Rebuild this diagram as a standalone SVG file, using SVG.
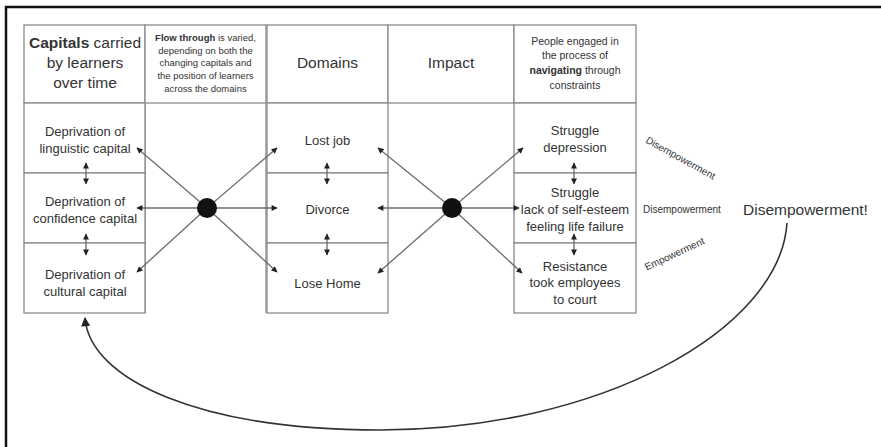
<svg xmlns="http://www.w3.org/2000/svg" width="881" height="447" viewBox="0 0 881 447">
<defs>
<style>
.box{fill:#fff;stroke:#8a8a8a;stroke-width:1.3}
.t{font-family:"Liberation Sans",Arial,sans-serif;fill:#333;text-anchor:middle}
.h1{font-size:15.5px}
.h2{font-size:9.5px}
.h5{font-size:10.5px}
.b{font-size:13px}
.lab{font-family:"Liberation Sans",Arial,sans-serif;fill:#333;font-size:10px}
.big{font-family:"Liberation Sans",Arial,sans-serif;fill:#333;font-size:15.5px}
.con{fill:none;stroke:#6b6b6b;stroke-width:1.3}
.dot{fill:#111}
</style>
<marker id="ah" viewBox="0 0 10 10" refX="9" refY="5" markerWidth="7" markerHeight="6" markerUnits="userSpaceOnUse" orient="auto-start-reverse">
<path d="M0,0 L10,5 L0,10 z" fill="#222"/>
</marker>
<marker id="ahb" viewBox="0 0 10 10" refX="9" refY="5" markerWidth="11" markerHeight="9" markerUnits="userSpaceOnUse" orient="auto-start-reverse">
<path d="M0,0 L10,5 L0,10 z" fill="#222"/>
</marker>
</defs>
<rect width="881" height="447" fill="#fff"/>
<path d="M6,447 V7 H881" fill="none" stroke="#111" stroke-width="2.5"/>

<g id="header-capitals">
<rect class="box" x="24" y="25" width="121" height="78"/>
<text class="t h1" x="85" y="48"><tspan font-weight="bold">Capitals</tspan> carried</text>
<text class="t h1" x="85" y="68">by learners</text>
<text class="t h1" x="85" y="88">over time</text>
</g>
<g id="header-flow">
<rect class="box" x="145" y="25" width="121" height="78"/>
<text class="t h2" x="205.5" y="41"><tspan font-weight="bold">Flow through</tspan> is varied,</text>
<text class="t h2" x="205.5" y="54">depending on both the</text>
<text class="t h2" x="205.5" y="66">changing capitals and</text>
<text class="t h2" x="205.5" y="79">the position of learners</text>
<text class="t h2" x="205.5" y="92">across the domains</text>
</g>
<g id="header-domains">
<rect class="box" x="267" y="25" width="121" height="78"/>
<text class="t h1" x="327.5" y="68">Domains</text>
</g>
<g id="header-impact">
<rect class="box" x="388" y="25" width="126" height="78"/>
<text class="t h1" x="451" y="68">Impact</text>
</g>
<g id="header-navigating">
<rect class="box" x="514" y="25" width="122" height="78"/>
<text class="t h5" x="575" y="45">People engaged in</text>
<text class="t h5" x="575" y="59">the process of</text>
<text class="t h5" x="575" y="74"><tspan font-weight="bold">navigating</tspan> through</text>
<text class="t h5" x="575" y="89">constraints</text>
</g>

<g id="col2-body"><path class="box" d="M145,103 V313 M266,103 V313" fill="none"/></g>

<g id="linguistic">
<rect class="box" x="24" y="103" width="121" height="70"/>
<text class="t b" x="85" y="135.5">Deprivation of</text>
<text class="t b" x="85" y="152.5">linguistic capital</text>
</g>
<g id="confidence">
<rect class="box" x="24" y="173" width="121" height="70"/>
<text class="t b" x="85" y="205.5">Deprivation of</text>
<text class="t b" x="85" y="222.5">confidence capital</text>
</g>
<g id="cultural">
<rect class="box" x="24" y="243" width="121" height="70"/>
<text class="t b" x="85" y="278.5">Deprivation of</text>
<text class="t b" x="85" y="295.5">cultural capital</text>
</g>

<g id="lost-job">
<rect class="box" x="267" y="103" width="121" height="70"/>
<text class="t b" x="327.5" y="144.5">Lost job</text>
</g>
<g id="divorce">
<rect class="box" x="267" y="173" width="121" height="70"/>
<text class="t b" x="327.5" y="213.5">Divorce</text>
</g>
<g id="lose-home">
<rect class="box" x="267" y="243" width="121" height="70"/>
<text class="t b" x="327.5" y="287.5">Lose Home</text>
</g>

<g id="struggle-depression">
<rect class="box" x="514" y="103" width="122" height="70"/>
<text class="t b" x="575" y="134.5">Struggle</text>
<text class="t b" x="575" y="151.5">depression</text>
</g>
<g id="struggle-esteem">
<rect class="box" x="514" y="173" width="122" height="70"/>
<text class="t b" x="575" y="196.5">Struggle</text>
<text class="t b" x="575" y="213.5">lack of self-esteem</text>
<text class="t b" x="575" y="230.5">feeling life failure</text>
</g>
<g id="resistance">
<rect class="box" x="514" y="243" width="122" height="70"/>
<text class="t b" x="575" y="270.5">Resistance</text>
<text class="t b" x="575" y="286.5">took employees</text>
<text class="t b" x="575" y="303.5">to court</text>
</g>

<g id="connectors">
<path class="con" d="M207,208 L137,148" marker-end="url(#ah)"/>
<path class="con" d="M207,208 L137,208" marker-end="url(#ah)"/>
<path class="con" d="M207,208 L137,272" marker-end="url(#ah)"/>
<path class="con" d="M207,208 L277,148" marker-end="url(#ah)"/>
<path class="con" d="M207,208 L277,208" marker-end="url(#ah)"/>
<path class="con" d="M207,208 L277,272" marker-end="url(#ah)"/>
<path class="con" d="M452,208 L378,148" marker-end="url(#ah)"/>
<path class="con" d="M452,208 L378,208" marker-end="url(#ah)"/>
<path class="con" d="M452,208 L378,273" marker-end="url(#ah)"/>
<path class="con" d="M452,208 L523,148" marker-end="url(#ah)"/>
<path class="con" d="M452,208 L519,208" marker-end="url(#ah)"/>
<path class="con" d="M452,208 L522,273" marker-end="url(#ah)"/>
<path class="con" d="M86,163 V184" marker-start="url(#ah)" marker-end="url(#ah)"/>
<path class="con" d="M86,234 V255" marker-start="url(#ah)" marker-end="url(#ah)"/>
<path class="con" d="M327,163 V184" marker-start="url(#ah)" marker-end="url(#ah)"/>
<path class="con" d="M327,234 V255" marker-start="url(#ah)" marker-end="url(#ah)"/>
<path class="con" d="M574,163 V184" marker-start="url(#ah)" marker-end="url(#ah)"/>
<path class="con" d="M574,234 V255" marker-start="url(#ah)" marker-end="url(#ah)"/>
<path d="M787,223 C780,330 600,430 380,430 C200,430 90,380 85,318" fill="none" stroke="#333" stroke-width="1.6" marker-end="url(#ahb)"/>
</g>

<g id="hub-left"><circle class="dot" cx="207" cy="208" r="10"/></g>
<g id="hub-right"><circle class="dot" cx="452" cy="208" r="10"/></g>

<g id="label-disemp-1"><text class="lab" transform="translate(679,161) rotate(29)" text-anchor="middle">Disempowerment</text></g>
<g id="label-disemp-2"><text class="lab" x="643" y="212.5">Disempowerment</text></g>
<g id="label-emp"><text class="lab" transform="translate(676,257) rotate(-25)" text-anchor="middle">Empowerment</text></g>
<g id="label-disemp-big"><text class="big" x="743" y="214.5">Disempowerment!</text></g>
</svg>
